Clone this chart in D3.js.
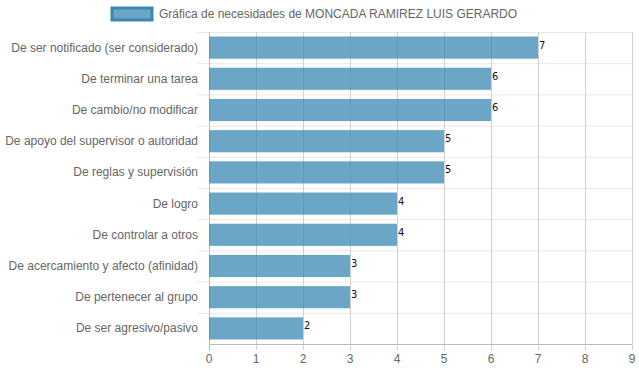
<!DOCTYPE html>
<html>
<head>
<meta charset="utf-8">
<script src="https://cdn.jsdelivr.net/npm/d3@7"></script>
<style>
  body { margin: 0; background: #fff; }
  text { font-family: "Liberation Sans", Arial, sans-serif; }
</style>
</head>
<body>
<div id="chart"></div>
<script>
// data
var categories = [
  "De ser notificado (ser considerado)",
  "De terminar una tarea",
  "De cambio/no modificar",
  "De apoyo del supervisor o autoridad",
  "De reglas y supervisión",
  "De logro",
  "De controlar a otros",
  "De acercamiento y afecto (afinidad)",
  "De pertenecer al grupo",
  "De ser agresivo/pasivo"
];
var values = [7, 6, 6, 5, 5, 4, 4, 3, 3, 2];
var xTicks = [0, 1, 2, 3, 4, 5, 6, 7, 8, 9];
var seriesName = "Gráfica de necesidades de MONCADA RAMIREZ LUIS GERARDO";

var margin = { top: 32, right: 7, bottom: 28, left: 209 },
  width = 639 - margin.left - margin.right,
  height = 372 - margin.top - margin.bottom;

var svgRoot = d3
  .select("#chart")
  .append("svg")
  .attr("width", 639)
  .attr("height", 372);

var svg = svgRoot
  .append("g")
  .attr("transform", "translate(" + margin.left + "," + margin.top + ")");

var x = d3.scaleLinear().domain([0, 9]).range([0, width]);
var y = d3.scaleBand().domain(categories).range([0, height]).paddingInner(0.29).paddingOuter(0.145);
var yb = d3.scaleBand().domain(categories).range([0, height]);

// horizontal grid (category boundaries)
var hLines = d3.range(categories.length + 1).map(function (i) { return i * yb.step(); });
svg.append("g")
  .selectAll("line")
  .data(hLines.slice(0, -1))
  .enter()
  .append("line")
  .attr("x1", -12)
  .attr("x2", width)
  .attr("y1", function (d) { return d + 0.5; })
  .attr("y2", function (d) { return d + 0.5; })
  .attr("stroke", "#e8e8e8")
  .attr("stroke-width", 1);

// vertical grid
svg.append("g")
  .selectAll("line")
  .data(xTicks)
  .enter()
  .append("line")
  .attr("x1", function (d) { return Math.round(x(d)) + 0.5; })
  .attr("x2", function (d) { return Math.round(x(d)) + 0.5; })
  .attr("y1", 0)
  .attr("y2", height + 6)
  .attr("stroke", function (d) { return d === 0 ? "#bbb" : "#d0d0d0"; })
  .attr("stroke-width", 1);

// bottom axis line
svg.append("line")
  .attr("x1", 0)
  .attr("x2", width)
  .attr("y1", height + 0.5)
  .attr("y2", height + 0.5)
  .attr("stroke", "#bbb");

// bars
svg.append("g")
  .selectAll("rect")
  .data(values)
  .enter()
  .append("rect")
  .attr("x", x(0))
  .attr("y", function (d, i) { return y(categories[i]); })
  .attr("width", function (d) { return x(d) - x(0); })
  .attr("height", y.bandwidth())
  .style("fill", "rgb(58,136,179)")
  .style("fill-opacity", 0.75);

// value labels
svg.append("g")
  .selectAll("text")
  .data(values)
  .enter()
  .append("text")
  .attr("x", function (d) { return x(d) + 1; })
  .attr("y", function (d, i) { return y(categories[i]) + y.bandwidth() / 2 + 1; })
  .attr("font-size", 11)
  .style("font-family", "'Liberation Sans Narrow', 'DejaVu Sans Condensed', sans-serif")
  .attr("fill", "#111")
  .text(function (d) { return d; });

// category labels
svg.append("g")
  .selectAll("text")
  .data(categories)
  .enter()
  .append("text")
  .attr("x", -11)
  .attr("y", function (d) { return yb(d) + yb.bandwidth() / 2 + 4; })
  .attr("text-anchor", "end")
  .attr("font-size", 12)
  .attr("fill", "#666")
  .text(function (d) { return d; });

// x tick labels
svg.append("g")
  .selectAll("text")
  .data(xTicks)
  .enter()
  .append("text")
  .attr("x", function (d) { return x(d); })
  .attr("y", height + 19)
  .attr("text-anchor", "middle")
  .attr("font-size", 12)
  .attr("fill", "#666")
  .text(function (d) { return d; });

// legend
var legend = svgRoot.append("g");
legend.append("rect")
  .attr("x", 112)
  .attr("y", 8)
  .attr("width", 40)
  .attr("height", 12)
  .style("fill", "rgb(58,136,179)")
  .style("fill-opacity", 0.75)
  .attr("stroke", "#3a88b3")
  .attr("stroke-width", 3);
legend.append("text")
  .attr("x", 159)
  .attr("y", 18)
  .attr("font-size", 12)
  .attr("fill", "#666")
  .text(seriesName);
</script>
</body>
</html>
